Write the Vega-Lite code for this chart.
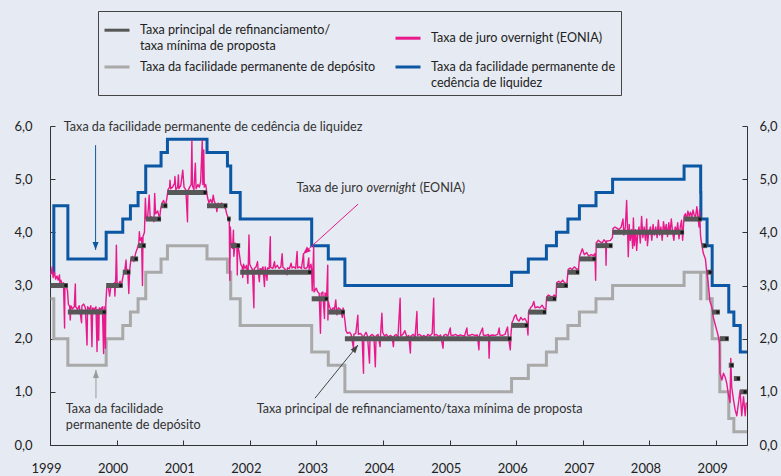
{
"$schema":"https://vega.github.io/schema/vega-lite/v6.json",
"width":697,"height":319,
"autosize":{"type":"none"},
"padding":{"left":50,"top":126,"right":34,"bottom":31},
"background":"#e6eaf2",
"config":{"view":{"stroke":null},"font":"Lato",
"axisX":{"tickCount":{"interval":"year","step":1},"format":"%Y","grid":false,"domainColor":"#333","tickColor":"#333","tickSize":-5,"labelPadding":22,"labelFont":"Lato","labelFontSize":13,"labelColor":"#222","labelOffset":-4,"labelFlush":false},
"legend":{"symbolType":"stroke","symbolSize":625,"symbolStrokeWidth":3,"labelFont":"Lato","labelFontSize":12.6,"labelColor":"#222","labelLimit":400,"labelBaseline":"middle","labelOffset":9,"strokeColor":"#444","padding":5,"rowPadding":0,"columnPadding":13},
"style":{"guide-label":{"lineHeight":16}}},
"datasets":{
"marginal":[{"d":"1999-01-04","v":3.25},{"d":"1999-01-22","v":4.5},{"d":"1999-04-09","v":3.5},{"d":"1999-11-05","v":4.0},{"d":"2000-02-04","v":4.25},{"d":"2000-03-17","v":4.5},{"d":"2000-04-28","v":4.75},{"d":"2000-06-09","v":5.25},{"d":"2000-09-01","v":5.5},{"d":"2000-10-06","v":5.75},{"d":"2001-05-11","v":5.5},{"d":"2001-08-31","v":5.25},{"d":"2001-09-18","v":4.75},{"d":"2001-11-09","v":4.25},{"d":"2002-12-06","v":3.75},{"d":"2003-03-07","v":3.5},{"d":"2003-06-06","v":3.0},{"d":"2005-12-06","v":3.25},{"d":"2006-03-08","v":3.5},{"d":"2006-06-15","v":3.75},{"d":"2006-08-09","v":4.0},{"d":"2006-10-11","v":4.25},{"d":"2006-12-13","v":4.5},{"d":"2007-03-14","v":4.75},{"d":"2007-06-13","v":5.0},{"d":"2008-07-09","v":5.25},{"d":"2008-10-08","v":4.75},{"d":"2008-10-09","v":4.25},{"d":"2008-11-12","v":3.75},{"d":"2008-12-10","v":3.0},{"d":"2009-03-11","v":2.5},{"d":"2009-04-08","v":2.25},{"d":"2009-05-13","v":1.75},{"d":"2009-06-19","v":1.75}],
"deposit":[{"d":"1999-01-04","v":2.75},{"d":"1999-01-22","v":2.0},{"d":"1999-04-09","v":1.5},{"d":"1999-11-05","v":2.0},{"d":"2000-02-04","v":2.25},{"d":"2000-03-17","v":2.5},{"d":"2000-04-28","v":2.75},{"d":"2000-06-09","v":3.25},{"d":"2000-09-01","v":3.5},{"d":"2000-10-06","v":3.75},{"d":"2001-05-11","v":3.5},{"d":"2001-08-31","v":3.25},{"d":"2001-09-18","v":2.75},{"d":"2001-11-09","v":2.25},{"d":"2002-12-06","v":1.75},{"d":"2003-03-07","v":1.5},{"d":"2003-06-06","v":1.0},{"d":"2005-12-06","v":1.25},{"d":"2006-03-08","v":1.5},{"d":"2006-06-15","v":1.75},{"d":"2006-08-09","v":2.0},{"d":"2006-10-11","v":2.25},{"d":"2006-12-13","v":2.5},{"d":"2007-03-14","v":2.75},{"d":"2007-06-13","v":3.0},{"d":"2008-07-09","v":3.25},{"d":"2008-10-08","v":2.75},{"d":"2008-10-09","v":3.25},{"d":"2008-11-12","v":2.75},{"d":"2008-12-10","v":2.0},{"d":"2009-01-21","v":1.0},{"d":"2009-03-11","v":0.5},{"d":"2009-04-08","v":0.25},{"d":"2009-06-19","v":0.25}],
"mro":[{"d":"1999-01-04","e":"1999-04-09","v":3.0},{"d":"1999-04-09","e":"1999-11-05","v":2.5},{"d":"1999-11-05","e":"2000-02-04","v":3.0},{"d":"2000-02-04","e":"2000-03-17","v":3.25},{"d":"2000-03-17","e":"2000-04-28","v":3.5},{"d":"2000-04-28","e":"2000-06-09","v":3.75},{"d":"2000-06-09","e":"2000-09-01","v":4.25},{"d":"2000-09-01","e":"2000-10-06","v":4.5},{"d":"2000-10-06","e":"2001-05-11","v":4.75},{"d":"2001-05-11","e":"2001-08-31","v":4.5},{"d":"2001-08-31","e":"2001-09-18","v":4.25},{"d":"2001-09-18","e":"2001-11-09","v":3.75},{"d":"2001-11-09","e":"2002-12-06","v":3.25},{"d":"2002-12-06","e":"2003-03-07","v":2.75},{"d":"2003-03-07","e":"2003-06-06","v":2.5},{"d":"2003-06-06","e":"2005-12-06","v":2.0},{"d":"2005-12-06","e":"2006-03-08","v":2.25},{"d":"2006-03-08","e":"2006-06-15","v":2.5},{"d":"2006-06-15","e":"2006-08-09","v":2.75},{"d":"2006-08-09","e":"2006-10-11","v":3.0},{"d":"2006-10-11","e":"2006-12-13","v":3.25},{"d":"2006-12-13","e":"2007-03-14","v":3.5},{"d":"2007-03-14","e":"2007-06-13","v":3.75},{"d":"2007-06-13","e":"2008-07-09","v":4.0},{"d":"2008-07-09","e":"2008-10-15","v":4.25},{"d":"2008-10-15","e":"2008-11-12","v":3.75},{"d":"2008-11-12","e":"2008-12-10","v":3.25},{"d":"2008-12-10","e":"2009-01-21","v":2.5},{"d":"2009-01-21","e":"2009-03-11","v":2.0},{"d":"2009-03-11","e":"2009-04-08","v":1.5},{"d":"2009-04-08","e":"2009-05-13","v":1.25},{"d":"2009-05-13","e":"2009-06-19","v":1.0}],
"eonia":[
{"d":"1999-01-04","v":3.2},{"d":"1999-01-11","v":3.3},{"d":"1999-01-13","v":3.35},{"d":"1999-01-18","v":3.15},{"d":"1999-01-25","v":3.25},{"d":"1999-02-01","v":3.12},{"d":"1999-02-08","v":3.18},{"d":"1999-02-15","v":3.1},{"d":"1999-02-22","v":3.2},{"d":"1999-02-24","v":3.05},{"d":"1999-03-02","v":3.1},{"d":"1999-03-09","v":3.02},{"d":"1999-03-16","v":3.05},{"d":"1999-03-22","v":2.2},{"d":"1999-03-24","v":2.98},{"d":"1999-03-31","v":3.0},{"d":"1999-04-07","v":2.9},{"d":"1999-04-12","v":2.65},{"d":"1999-04-19","v":2.6},{"d":"1999-04-22","v":2.35},{"d":"1999-04-26","v":2.62},{"d":"1999-05-05","v":2.56},{"d":"1999-05-14","v":2.6},{"d":"1999-05-20","v":3.03},{"d":"1999-05-22","v":2.6},{"d":"1999-06-01","v":2.55},{"d":"1999-06-10","v":2.62},{"d":"1999-06-23","v":2.3},{"d":"1999-06-25","v":2.62},{"d":"1999-07-05","v":2.65},{"d":"1999-07-14","v":2.58},{"d":"1999-07-23","v":1.88},{"d":"1999-07-26","v":2.6},{"d":"1999-08-05","v":2.55},{"d":"1999-08-13","v":2.62},{"d":"1999-08-19","v":1.85},{"d":"1999-08-23","v":2.58},{"d":"1999-09-01","v":2.55},{"d":"1999-09-10","v":2.6},{"d":"1999-09-16","v":1.76},{"d":"1999-09-19","v":2.55},{"d":"1999-09-25","v":1.97},{"d":"1999-09-28","v":2.58},{"d":"1999-10-07","v":2.55},{"d":"1999-10-15","v":2.6},{"d":"1999-10-22","v":1.72},{"d":"1999-10-25","v":2.6},{"d":"1999-11-01","v":1.82},{"d":"1999-11-03","v":2.65},{"d":"1999-11-08","v":2.95},{"d":"1999-11-16","v":3.0},{"d":"1999-11-24","v":2.8},{"d":"1999-12-02","v":3.02},{"d":"1999-12-10","v":2.98},{"d":"1999-12-20","v":3.05},{"d":"1999-12-23","v":2.8},{"d":"1999-12-28","v":3.2},{"d":"1999-12-31","v":3.76},
{"d":"2000-01-04","v":3.05},{"d":"2000-01-12","v":3.02},{"d":"2000-01-20","v":3.08},{"d":"2000-01-27","v":3.0},{"d":"2000-02-07","v":3.2},{"d":"2000-02-15","v":3.28},{"d":"2000-02-22","v":3.48},{"d":"2000-02-25","v":3.25},{"d":"2000-03-03","v":3.3},{"d":"2000-03-08","v":2.85},{"d":"2000-03-13","v":3.3},{"d":"2000-03-20","v":3.5},{"d":"2000-03-28","v":3.55},{"d":"2000-04-05","v":3.45},{"d":"2000-04-14","v":3.6},{"d":"2000-04-24","v":3.7},{"d":"2000-05-02","v":3.8},{"d":"2000-05-05","v":4.01},{"d":"2000-05-09","v":3.85},{"d":"2000-05-17","v":3.9},{"d":"2000-05-22","v":3.0},{"d":"2000-05-25","v":3.92},{"d":"2000-06-02","v":4.0},{"d":"2000-06-07","v":4.64},{"d":"2000-06-12","v":4.25},{"d":"2000-06-20","v":4.3},{"d":"2000-06-28","v":4.7},{"d":"2000-07-03","v":4.3},{"d":"2000-07-12","v":4.28},{"d":"2000-07-24","v":4.2},{"d":"2000-07-28","v":4.73},{"d":"2000-08-02","v":4.35},{"d":"2000-08-14","v":4.4},{"d":"2000-08-24","v":4.25},{"d":"2000-08-30","v":4.45},{"d":"2000-09-06","v":4.55},{"d":"2000-09-15","v":4.6},{"d":"2000-09-25","v":4.5},{"d":"2000-10-02","v":4.62},{"d":"2000-10-09","v":4.8},{"d":"2000-10-18","v":4.85},{"d":"2000-10-20","v":4.98},{"d":"2000-10-24","v":4.82},{"d":"2000-11-03","v":4.85},{"d":"2000-11-14","v":4.92},{"d":"2000-11-16","v":5.05},{"d":"2000-11-21","v":4.8},{"d":"2000-12-01","v":4.85},{"d":"2000-12-05","v":5.08},{"d":"2000-12-08","v":4.82},{"d":"2000-12-18","v":4.88},{"d":"2000-12-29","v":5.17},
{"d":"2001-01-05","v":4.85},{"d":"2001-01-15","v":4.8},{"d":"2001-01-24","v":4.2},{"d":"2001-01-26","v":4.78},{"d":"2001-02-05","v":4.85},{"d":"2001-02-13","v":4.9},{"d":"2001-02-17","v":5.73},{"d":"2001-02-20","v":4.88},{"d":"2001-02-28","v":4.8},{"d":"2001-03-08","v":5.3},{"d":"2001-03-12","v":4.82},{"d":"2001-03-22","v":4.9},{"d":"2001-03-30","v":4.85},{"d":"2001-04-06","v":4.95},{"d":"2001-04-15","v":5.73},{"d":"2001-04-18","v":4.9},{"d":"2001-04-23","v":5.55},{"d":"2001-04-26","v":4.85},{"d":"2001-05-04","v":4.9},{"d":"2001-05-14","v":4.65},{"d":"2001-05-22","v":4.55},{"d":"2001-05-30","v":4.62},{"d":"2001-06-08","v":4.55},{"d":"2001-06-14","v":4.7},{"d":"2001-06-20","v":4.58},{"d":"2001-06-29","v":4.52},{"d":"2001-07-04","v":4.39},{"d":"2001-07-10","v":4.55},{"d":"2001-07-20","v":4.52},{"d":"2001-07-30","v":4.55},{"d":"2001-08-08","v":4.48},{"d":"2001-08-20","v":4.45},{"d":"2001-08-27","v":4.35},{"d":"2001-09-03","v":4.28},{"d":"2001-09-10","v":4.25},{"d":"2001-09-13","v":3.1},{"d":"2001-09-16","v":4.1},{"d":"2001-09-20","v":3.8},{"d":"2001-09-28","v":3.7},{"d":"2001-10-03","v":4.04},{"d":"2001-10-05","v":3.55},{"d":"2001-10-12","v":3.8},{"d":"2001-10-22","v":3.7},{"d":"2001-10-24","v":3.2},{"d":"2001-10-26","v":3.78},{"d":"2001-11-02","v":3.65},{"d":"2001-11-12","v":3.4},{"d":"2001-11-20","v":3.35},{"d":"2001-11-23","v":3.15},{"d":"2001-11-27","v":3.4},{"d":"2001-12-05","v":3.32},{"d":"2001-12-14","v":3.38},{"d":"2001-12-21","v":3.04},{"d":"2001-12-27","v":3.95},{"d":"2001-12-31","v":3.4},
{"d":"2002-01-07","v":3.35},{"d":"2002-01-15","v":3.3},{"d":"2002-01-23","v":2.58},{"d":"2002-01-25","v":3.32},{"d":"2002-02-04","v":3.35},{"d":"2002-02-12","v":3.45},{"d":"2002-02-15","v":3.3},{"d":"2002-02-22","v":3.07},{"d":"2002-02-26","v":3.32},{"d":"2002-03-06","v":3.3},{"d":"2002-03-14","v":3.35},{"d":"2002-03-22","v":2.98},{"d":"2002-03-26","v":3.35},{"d":"2002-04-05","v":3.1},{"d":"2002-04-08","v":3.33},{"d":"2002-04-17","v":3.32},{"d":"2002-04-23","v":3.92},{"d":"2002-04-25","v":3.34},{"d":"2002-05-07","v":3.32},{"d":"2002-05-16","v":3.45},{"d":"2002-05-20","v":3.33},{"d":"2002-05-31","v":3.38},{"d":"2002-06-10","v":3.32},{"d":"2002-06-20","v":3.35},{"d":"2002-06-27","v":3.6},{"d":"2002-07-01","v":3.34},{"d":"2002-07-11","v":3.32},{"d":"2002-07-23","v":3.2},{"d":"2002-07-26","v":3.33},{"d":"2002-08-06","v":3.32},{"d":"2002-08-15","v":3.42},{"d":"2002-08-20","v":3.33},{"d":"2002-08-30","v":3.35},{"d":"2002-09-09","v":3.32},{"d":"2002-09-17","v":3.64},{"d":"2002-09-20","v":3.33},{"d":"2002-10-01","v":3.35},{"d":"2002-10-11","v":3.32},{"d":"2002-10-22","v":3.6},{"d":"2002-10-25","v":3.33},{"d":"2002-11-04","v":3.32},{"d":"2002-11-13","v":3.35},{"d":"2002-11-20","v":3.52},{"d":"2002-11-22","v":3.3},{"d":"2002-12-02","v":3.4},{"d":"2002-12-05","v":3.32},{"d":"2002-12-09","v":2.9},{"d":"2002-12-17","v":3.73},{"d":"2002-12-19","v":2.88},{"d":"2002-12-31","v":2.95},
{"d":"2003-01-08","v":2.88},{"d":"2003-01-16","v":2.85},{"d":"2003-01-23","v":2.1},{"d":"2003-01-27","v":2.85},{"d":"2003-02-05","v":2.88},{"d":"2003-02-14","v":2.38},{"d":"2003-02-17","v":2.86},{"d":"2003-02-26","v":2.8},{"d":"2003-03-04","v":3.38},{"d":"2003-03-05","v":2.35},{"d":"2003-03-07","v":2.7},{"d":"2003-03-14","v":2.6},{"d":"2003-03-24","v":2.52},{"d":"2003-04-02","v":2.58},{"d":"2003-04-10","v":2.55},{"d":"2003-04-17","v":2.73},{"d":"2003-04-23","v":2.45},{"d":"2003-05-01","v":2.58},{"d":"2003-05-13","v":2.55},{"d":"2003-05-23","v":2.4},{"d":"2003-05-27","v":2.58},{"d":"2003-06-06","v":2.35},{"d":"2003-06-12","v":2.15},{"d":"2003-06-20","v":2.1},{"d":"2003-07-01","v":2.12},{"d":"2003-07-10","v":2.08},{"d":"2003-07-23","v":1.82},{"d":"2003-07-25","v":2.08},{"d":"2003-08-05","v":2.1},{"d":"2003-08-16","v":2.44},{"d":"2003-08-19","v":2.08},{"d":"2003-08-29","v":2.1},{"d":"2003-09-08","v":2.07},{"d":"2003-09-16","v":1.35},{"d":"2003-09-18","v":2.05},{"d":"2003-09-30","v":2.12},{"d":"2003-10-08","v":2.05},{"d":"2003-10-19","v":1.54},{"d":"2003-10-22","v":2.05},{"d":"2003-11-03","v":2.08},{"d":"2003-11-12","v":2.05},{"d":"2003-11-20","v":1.47},{"d":"2003-11-24","v":2.05},{"d":"2003-12-05","v":2.08},{"d":"2003-12-16","v":1.85},{"d":"2003-12-19","v":2.1},{"d":"2003-12-26","v":2.48},{"d":"2003-12-30","v":2.12},
{"d":"2004-01-09","v":2.05},{"d":"2004-01-20","v":2.08},{"d":"2004-01-30","v":2.03},{"d":"2004-02-10","v":2.06},{"d":"2004-02-20","v":2.04},{"d":"2004-02-27","v":1.85},{"d":"2004-03-02","v":2.05},{"d":"2004-03-12","v":2.08},{"d":"2004-03-23","v":2.03},{"d":"2004-04-04","v":2.76},{"d":"2004-04-07","v":2.05},{"d":"2004-04-19","v":2.08},{"d":"2004-04-30","v":2.15},{"d":"2004-05-11","v":2.03},{"d":"2004-05-21","v":2.06},{"d":"2004-05-30","v":1.73},{"d":"2004-06-02","v":2.05},{"d":"2004-06-15","v":2.08},{"d":"2004-06-25","v":2.03},{"d":"2004-07-05","v":2.51},{"d":"2004-07-08","v":2.06},{"d":"2004-07-20","v":2.08},{"d":"2004-08-02","v":2.04},{"d":"2004-08-13","v":2.06},{"d":"2004-08-24","v":2.02},{"d":"2004-09-03","v":2.08},{"d":"2004-09-15","v":2.05},{"d":"2004-09-27","v":2.1},{"d":"2004-10-05","v":2.76},{"d":"2004-10-08","v":2.06},{"d":"2004-10-20","v":2.08},{"d":"2004-11-01","v":2.04},{"d":"2004-11-12","v":2.07},{"d":"2004-11-25","v":1.82},{"d":"2004-11-29","v":2.06},{"d":"2004-12-10","v":2.08},{"d":"2004-12-22","v":2.05},
{"d":"2005-01-04","v":2.2},{"d":"2005-01-07","v":2.07},{"d":"2005-01-20","v":2.06},{"d":"2005-02-02","v":2.08},{"d":"2005-02-15","v":2.05},{"d":"2005-02-28","v":2.07},{"d":"2005-03-10","v":2.06},{"d":"2005-03-23","v":2.05},{"d":"2005-04-05","v":2.2},{"d":"2005-04-08","v":2.07},{"d":"2005-04-21","v":2.06},{"d":"2005-05-04","v":2.08},{"d":"2005-05-18","v":2.06},{"d":"2005-06-01","v":2.07},{"d":"2005-06-10","v":1.79},{"d":"2005-06-13","v":2.06},{"d":"2005-06-30","v":2.2},{"d":"2005-07-04","v":2.07},{"d":"2005-07-18","v":2.06},{"d":"2005-08-01","v":2.08},{"d":"2005-08-05","v":1.63},{"d":"2005-08-09","v":2.06},{"d":"2005-08-24","v":2.07},{"d":"2005-09-07","v":2.06},{"d":"2005-09-21","v":2.08},{"d":"2005-09-29","v":2.2},{"d":"2005-10-03","v":2.07},{"d":"2005-10-17","v":2.06},{"d":"2005-10-31","v":2.08},{"d":"2005-11-14","v":2.22},{"d":"2005-11-17","v":2.07},{"d":"2005-11-29","v":1.79},{"d":"2005-12-02","v":2.05},{"d":"2005-12-08","v":2.3},{"d":"2005-12-15","v":2.35},{"d":"2005-12-22","v":2.42},{"d":"2005-12-30","v":2.45},
{"d":"2006-01-06","v":2.36},{"d":"2006-01-16","v":2.33},{"d":"2006-01-26","v":2.4},{"d":"2006-02-06","v":2.35},{"d":"2006-02-16","v":2.38},{"d":"2006-02-27","v":2.32},{"d":"2006-03-06","v":2.07},{"d":"2006-03-09","v":2.5},{"d":"2006-03-20","v":2.58},{"d":"2006-03-30","v":2.62},{"d":"2006-04-07","v":2.7},{"d":"2006-04-14","v":2.58},{"d":"2006-04-28","v":2.6},{"d":"2006-05-10","v":2.58},{"d":"2006-05-22","v":2.63},{"d":"2006-06-02","v":2.57},{"d":"2006-06-12","v":2.55},{"d":"2006-06-16","v":2.78},{"d":"2006-06-26","v":2.82},{"d":"2006-07-06","v":2.8},{"d":"2006-07-17","v":2.78},{"d":"2006-07-28","v":2.82},{"d":"2006-08-07","v":2.78},{"d":"2006-08-10","v":3.05},{"d":"2006-08-22","v":3.08},{"d":"2006-09-01","v":3.05},{"d":"2006-09-12","v":3.1},{"d":"2006-09-25","v":3.04},{"d":"2006-10-06","v":3.05},{"d":"2006-10-12","v":3.3},{"d":"2006-10-23","v":3.33},{"d":"2006-11-03","v":3.3},{"d":"2006-11-15","v":3.35},{"d":"2006-11-28","v":3.31},{"d":"2006-12-08","v":3.3},{"d":"2006-12-14","v":3.55},{"d":"2006-12-22","v":3.62},{"d":"2006-12-29","v":3.69},
{"d":"2007-01-09","v":3.58},{"d":"2007-01-22","v":3.62},{"d":"2007-02-02","v":3.55},{"d":"2007-02-15","v":3.58},{"d":"2007-02-28","v":3.56},{"d":"2007-03-08","v":3.6},{"d":"2007-03-12","v":3.1},{"d":"2007-03-15","v":3.8},{"d":"2007-03-27","v":3.85},{"d":"2007-04-06","v":3.82},{"d":"2007-04-17","v":3.8},{"d":"2007-04-27","v":3.86},{"d":"2007-05-06","v":3.82},{"d":"2007-05-08","v":3.38},{"d":"2007-05-11","v":3.84},{"d":"2007-05-22","v":3.84},{"d":"2007-06-01","v":3.85},{"d":"2007-06-12","v":3.9},{"d":"2007-06-15","v":4.07},{"d":"2007-06-26","v":4.1},{"d":"2007-07-06","v":4.08},{"d":"2007-07-18","v":4.05},{"d":"2007-07-30","v":4.1},{"d":"2007-08-09","v":4.25},{"d":"2007-08-14","v":3.95},{"d":"2007-08-22","v":4.1},{"d":"2007-08-29","v":4.6},{"d":"2007-09-03","v":4.05},{"d":"2007-09-07","v":3.54},{"d":"2007-09-12","v":4.15},{"d":"2007-09-18","v":3.85},{"d":"2007-09-25","v":4.05},{"d":"2007-10-01","v":3.7},{"d":"2007-10-05","v":4.27},{"d":"2007-10-10","v":3.75},{"d":"2007-10-17","v":4.05},{"d":"2007-10-23","v":3.66},{"d":"2007-10-29","v":4.0},{"d":"2007-11-05","v":4.1},{"d":"2007-11-12","v":3.8},{"d":"2007-11-19","v":4.3},{"d":"2007-11-26","v":3.9},{"d":"2007-12-03","v":4.1},{"d":"2007-12-10","v":3.85},{"d":"2007-12-17","v":4.25},{"d":"2007-12-21","v":3.75},{"d":"2007-12-28","v":4.0},
{"d":"2008-01-07","v":4.1},{"d":"2008-01-14","v":3.85},{"d":"2008-01-21","v":4.15},{"d":"2008-01-28","v":3.95},{"d":"2008-02-05","v":4.1},{"d":"2008-02-12","v":3.9},{"d":"2008-02-19","v":4.23},{"d":"2008-02-26","v":3.95},{"d":"2008-03-04","v":4.1},{"d":"2008-03-11","v":3.85},{"d":"2008-03-18","v":4.2},{"d":"2008-03-26","v":4.0},{"d":"2008-04-02","v":4.15},{"d":"2008-04-09","v":3.92},{"d":"2008-04-16","v":4.18},{"d":"2008-04-23","v":4.0},{"d":"2008-04-30","v":4.25},{"d":"2008-05-07","v":4.0},{"d":"2008-05-14","v":3.85},{"d":"2008-05-21","v":4.1},{"d":"2008-05-28","v":4.0},{"d":"2008-06-04","v":4.18},{"d":"2008-06-11","v":3.88},{"d":"2008-06-18","v":4.1},{"d":"2008-06-25","v":4.23},{"d":"2008-07-01","v":3.85},{"d":"2008-07-09","v":4.3},{"d":"2008-07-16","v":4.35},{"d":"2008-07-23","v":4.25},{"d":"2008-07-30","v":4.4},{"d":"2008-08-06","v":4.3},{"d":"2008-08-13","v":4.38},{"d":"2008-08-20","v":4.28},{"d":"2008-08-27","v":4.42},{"d":"2008-09-03","v":4.32},{"d":"2008-09-10","v":4.3},{"d":"2008-09-17","v":4.48},{"d":"2008-09-24","v":4.25},{"d":"2008-09-29","v":4.1},{"d":"2008-10-02","v":4.42},{"d":"2008-10-07","v":3.95},{"d":"2008-10-10","v":3.86},{"d":"2008-10-22","v":3.61},{"d":"2008-11-03","v":3.5},{"d":"2008-11-09","v":3.29},{"d":"2008-11-18","v":3.05},{"d":"2008-11-28","v":2.7},{"d":"2008-12-08","v":2.6},{"d":"2008-12-16","v":2.41},{"d":"2008-12-24","v":2.3},
{"d":"2009-01-04","v":2.16},{"d":"2009-01-13","v":2.04},{"d":"2009-01-20","v":1.9},{"d":"2009-01-22","v":1.35},{"d":"2009-02-01","v":1.22},{"d":"2009-02-10","v":1.35},{"d":"2009-02-19","v":1.28},{"d":"2009-02-28","v":1.16},{"d":"2009-03-09","v":0.95},{"d":"2009-03-18","v":0.8},{"d":"2009-03-22","v":1.63},{"d":"2009-03-27","v":1.1},{"d":"2009-04-06","v":0.85},{"d":"2009-04-15","v":0.66},{"d":"2009-04-24","v":0.55},{"d":"2009-05-03","v":0.78},{"d":"2009-05-12","v":1.03},{"d":"2009-05-21","v":0.55},{"d":"2009-05-31","v":0.91},{"d":"2009-06-09","v":0.55},{"d":"2009-06-15","v":0.8}],
"notes":[{"t":"Taxa da facilidade permanente de cedência de liquidez","d":"1999-03-18","v":5.98},{"t":"Taxa da facilidade","d":"1999-03-29","v":0.68},{"t":"permanente de depósito","d":"1999-03-29","v":0.38},{"t":"Taxa principal de refinanciamento/taxa mínima de proposta","d":"2002-02-08","v":0.68},{"t":"Taxa de juro","d":"2002-09-13","v":4.83},{"t":"(EONIA)","d":"2004-07-20","v":4.83}],
"italic":[{"t":"overnight","d":"2003-10-03","v":4.83}],
"arrowBlue":[{"d":"1999-09-08","v":5.64,"d2":"1999-09-08","v2":3.67}],
"arrowGray":[{"d":"1999-09-10","v":0.88,"d2":"1999-09-10","v2":1.41}],
"arrowPink":[{"d":"2003-08-17","v":4.53,"d2":"2002-10-19","v2":3.59}],
"arrowDark":[{"d":"2002-12-24","v":0.88,"d2":"2003-08-17","v2":1.88}]
},
"layer":[
{"data":{"name":"deposit"},
 "mark":{"type":"line","interpolate":"step-after","strokeJoin":"miter","strokeWidth":3},
 "encoding":{
  "x":{"field":"d","type":"temporal","title":null,"scale":{"domain":[{"year":1999,"month":1,"date":1},{"year":2009,"month":6,"date":19}]},"axis":{"title":null}},
  "y":{"field":"v","type":"quantitative","scale":{"domain":[0,6]},"axis":null},
  "color":{"datum":"Taxa da facilidade permanente de depósito","type":"nominal","scale":{"domain":["Taxa principal de refinanciamento/|taxa mínima de proposta","Taxa da facilidade permanente de depósito","Taxa de juro overnight (EONIA)","Taxa da facilidade permanente de|cedência de liquidez"],"range":["#575757","#a9a9a9","#e8198b","#0b57a3"]},
   "legend":{"title":null,"orient":"none","legendX":48,"legendY":-115,"columns":2,"labelExpr":"split(datum.label,'|')"}}
 }},
{"data":{"name":"marginal"},
 "mark":{"type":"line","interpolate":"step-after","strokeJoin":"miter","strokeWidth":3},
 "encoding":{
  "x":{"field":"d","type":"temporal","title":null,"axis":{"title":null}},
  "y":{"field":"v","type":"quantitative","axis":{"orient":"right","values":[0,1,2,3,4,5,6],"labelExpr":"replace(format(datum.value,'.1f'),'.',',')","title":null,"grid":false,"domainColor":"#333","tickColor":"#333","tickSize":-5,"labelPadding":17,"labelFont":"Lato","labelFontSize":13,"labelColor":"#222"}},
  "color":{"datum":"Taxa da facilidade permanente de|cedência de liquidez","type":"nominal"}
 }},
{"data":{"name":"eonia"},
 "mark":{"type":"line","strokeJoin":"round","strokeWidth":1.4},
 "encoding":{
  "x":{"field":"d","type":"temporal","title":null,"axis":{"title":null}},
  "y":{"field":"v","type":"quantitative","axis":{"orient":"left","values":[0,1,2,3,4,5,6],"labelExpr":"replace(format(datum.value,'.1f'),'.',',')","title":null,"grid":false,"domainColor":"#333","tickColor":"#333","tickSize":-5,"labelPadding":23,"labelFont":"Lato","labelFontSize":13,"labelColor":"#222"}},
  "color":{"datum":"Taxa de juro overnight (EONIA)","type":"nominal"}
 }},
{"data":{"name":"mro"},
 "mark":{"type":"rule","strokeCap":"butt","strokeWidth":5},
 "encoding":{
  "x":{"field":"d","type":"temporal","title":null,"axis":{"title":null}},
  "x2":{"field":"e"},
  "y":{"field":"v","type":"quantitative","axis":null},
  "color":{"datum":"Taxa principal de refinanciamento/|taxa mínima de proposta","type":"nominal"}
 }},
{"data":{"name":"mro"},
 "mark":{"type":"point","shape":"square","filled":true,"size":9,"color":"#151515","opacity":1,"xOffset":-2},
 "encoding":{
  "x":{"field":"e","type":"temporal","title":null,"axis":{"title":null}},
  "y":{"field":"v","type":"quantitative","axis":null}
 }},
{"data":{"name":"notes"},
 "mark":{"type":"text","align":"left","baseline":"middle","font":"Lato","fontSize":12.6,"color":"#333"},
 "encoding":{
  "x":{"field":"d","type":"temporal","title":null,"axis":{"title":null}},
  "y":{"field":"v","type":"quantitative","axis":null},
  "text":{"field":"t"}
 }},
{"data":{"name":"italic"},
 "mark":{"type":"text","align":"left","baseline":"middle","font":"Lato","fontSize":12.6,"fontStyle":"italic","color":"#333"},
 "encoding":{
  "x":{"field":"d","type":"temporal","title":null,"axis":{"title":null}},
  "y":{"field":"v","type":"quantitative","axis":null},
  "text":{"field":"t"}
 }},
{"data":{"name":"arrowBlue"},
 "mark":{"type":"rule","color":"#0b57a3","strokeWidth":1},
 "encoding":{"x":{"field":"d","type":"temporal","title":null,"axis":{"title":null}},"y":{"field":"v","type":"quantitative","axis":null},"x2":{"field":"d2"},"y2":{"field":"v2"}}},
{"data":{"name":"arrowBlue"},
 "mark":{"type":"point","shape":"M0,0L3,8L-3,8Z","size":4,"filled":true,"color":"#0b57a3","opacity":1,"angle":180,"strokeWidth":0},
 "encoding":{"x":{"field":"d2","type":"temporal","title":null,"axis":{"title":null}},"y":{"field":"v2","type":"quantitative","axis":null}}},
{"data":{"name":"arrowGray"},
 "mark":{"type":"rule","color":"#9a9a9a","strokeWidth":1},
 "encoding":{"x":{"field":"d","type":"temporal","title":null,"axis":{"title":null}},"y":{"field":"v","type":"quantitative","axis":null},"x2":{"field":"d2"},"y2":{"field":"v2"}}},
{"data":{"name":"arrowGray"},
 "mark":{"type":"point","shape":"M0,0L3,8L-3,8Z","size":4,"filled":true,"color":"#9a9a9a","opacity":1,"angle":0,"strokeWidth":0},
 "encoding":{"x":{"field":"d2","type":"temporal","title":null,"axis":{"title":null}},"y":{"field":"v2","type":"quantitative","axis":null}}},
{"data":{"name":"arrowPink"},
 "mark":{"type":"rule","color":"#e8198b","strokeWidth":1},
 "encoding":{"x":{"field":"d","type":"temporal","title":null,"axis":{"title":null}},"y":{"field":"v","type":"quantitative","axis":null},"x2":{"field":"d2"},"y2":{"field":"v2"}}},
{"data":{"name":"arrowPink"},
 "mark":{"type":"point","shape":"M0,0L3,8L-3,8Z","size":4,"filled":true,"color":"#e8198b","opacity":1,"angle":228,"strokeWidth":0},
 "encoding":{"x":{"field":"d2","type":"temporal","title":null,"axis":{"title":null}},"y":{"field":"v2","type":"quantitative","axis":null}}},
{"data":{"name":"arrowDark"},
 "mark":{"type":"rule","color":"#444","strokeWidth":1},
 "encoding":{"x":{"field":"d","type":"temporal","title":null,"axis":{"title":null}},"y":{"field":"v","type":"quantitative","axis":null},"x2":{"field":"d2"},"y2":{"field":"v2"}}},
{"data":{"name":"arrowDark"},
 "mark":{"type":"point","shape":"M0,0L3,8L-3,8Z","size":4,"filled":true,"color":"#444","opacity":1,"angle":39,"strokeWidth":0},
 "encoding":{"x":{"field":"d2","type":"temporal","title":null,"axis":{"title":null}},"y":{"field":"v2","type":"quantitative","axis":null}}}
],
"resolve":{"axis":{"y":"independent"}}
}
